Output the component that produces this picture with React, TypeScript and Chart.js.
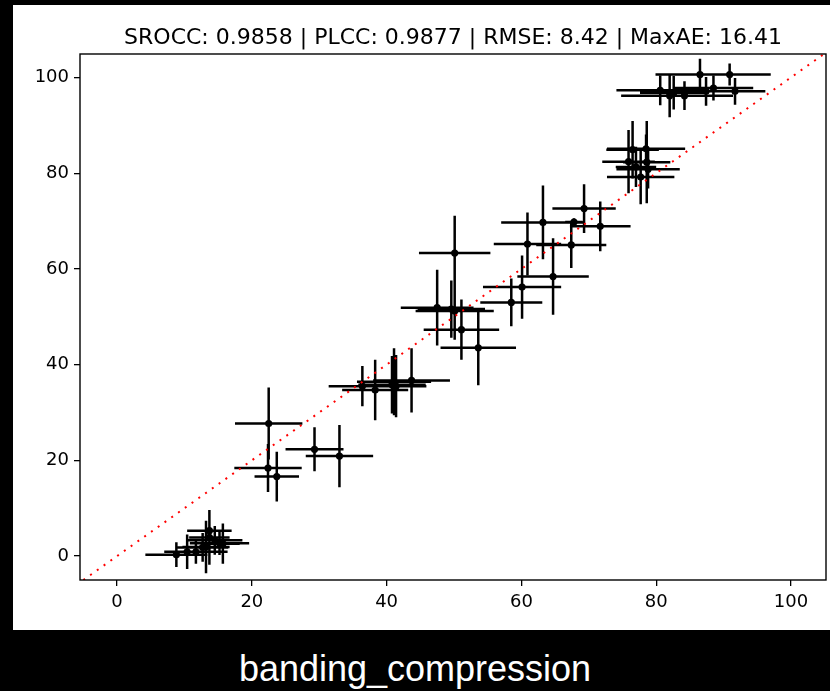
import React, { useEffect, useRef } from "react";
import { Chart, registerables } from "chart.js";

Chart.register(...registerables);

const titleText = "SROCC: 0.9858 | PLCC: 0.9877 | RMSE: 8.42 | MaxAE: 16.41";
const caption = "banding_compression";

const xTicks = [0, 20, 40, 60, 80, 100];
const yTicks = [0, 20, 40, 60, 80, 100];
const diagonal = [-5, 105];

// point centres
const xVals = [
  8.8, 10.4, 11.7, 12.7, 13.2, 13.7, 13.7, 14.5, 15.2, 15.7,
  22.5, 22.4, 23.7, 29.3, 33.0,
  36.4, 38.3, 40.8, 41.1, 41.4, 43.7,
  47.5, 49.6, 50.1, 50.1, 51.1, 53.6,
  58.5, 60.1, 64.7, 60.9, 63.2, 67.4, 67.8, 69.3, 71.7,
  76.5, 78.5, 78.6, 75.9, 78.8, 77.7, 77.0,
  86.5, 90.9, 80.6, 82.0, 82.6, 84.2, 87.4, 88.5, 91.7,
];
const yVals = [
  0.3, 0.9, 0.9, 1.8, 1.9, 3.9, 5.3, 3.3, 2.7, 2.6,
  27.7, 18.4, 16.6, 22.3, 20.9,
  35.5, 34.7, 35.8, 36.4, 35.5, 36.7,
  51.9, 51.6, 51.2, 63.3, 47.3, 43.5,
  53.0, 56.2, 58.4, 65.2, 69.7, 65.0, 69.8, 72.6, 68.9,
  84.9, 85.1, 82.3, 82.4, 80.8, 79.2, 81.3,
  100.6, 100.6, 97.3, 96.2, 96.8, 96.2, 97.1, 97.8, 97.1,
];
// half-widths of the horizontal error bars
const xErr = [
  4.6, 3.2, 4.7, 3.8, 3.5, 3.0, 3.3, 4.1, 4.4, 2.5,
  5.0, 5.0, 3.3, 4.3, 5.0,
  5.0, 4.9, 5.0, 5.5, 4.5, 5.7,
  5.4, 5.0, 5.8, 5.3, 5.6, 5.6,
  4.6, 5.8, 5.3, 5.0, 6.2, 5.2, 1.3, 4.7, 4.5,
  3.9, 5.8, 3.5, 3.9, 4.7, 5.0, 3.0,
  6.6, 6.1, 6.5, 7.2, 5.0, 7.2, 5.5, 5.9, 4.5,
];
// half-heights of the vertical error bars
const yErr = [
  2.6, 3.6, 2.5, 3.0, 5.5, 5.7, 2.0, 3.0, 2.5, 4.2,
  7.5, 5.0, 5.2, 4.6, 6.5,
  4.2, 6.3, 6.0, 7.0, 6.5, 6.7,
  7.9, 6.0, 6.0, 7.8, 6.3, 7.8,
  5.0, 6.6, 8.0, 6.6, 7.7, 4.8, 0.8, 5.1, 5.2,
  6.0, 3.0, 8.6, 6.6, 4.0, 5.7, 4.2,
  3.3, 2.3, 3.1, 4.5, 3.5, 3.0, 3.0, 2.6, 2.8,
];

const framePlugin = {
  id: "frame",
  afterDatasetsDraw(chart: any) {
    const { ctx, chartArea: a } = chart;
    ctx.save();
    ctx.strokeStyle = "#000";
    ctx.lineWidth = 1.4;
    ctx.strokeRect(a.left, a.top, a.right - a.left, a.bottom - a.top);
    ctx.restore();
  },
};

export default function App() {
  const ref = useRef<HTMLCanvasElement | null>(null);

  useEffect(() => {
    if (!ref.current) return;
    const hBars: any[] = [];
    const vBars: any[] = [];
    xVals.forEach((x, i) => {
      const y = yVals[i];
      hBars.push({ x: x - xErr[i], y }, { x: x + xErr[i], y }, { x, y: null });
      vBars.push({ x, y: y - yErr[i] }, { x, y: y + yErr[i] }, { x, y: null });
    });
    const points = xVals.map((x, i) => ({ x, y: yVals[i] }));
    const diag = diagonal.map((v) => ({ x: v, y: v }));

    const tickFont = { family: "'DejaVu Sans'", size: 18 };

    const chart = new Chart(ref.current, {
      type: "scatter",
      data: {
        datasets: [
          {
            data: diag,
            showLine: true,
            borderColor: "#ff0000",
            borderWidth: 2,
            borderDash: [2, 6.3],
            pointRadius: 0,
            order: 0,
          } as any,
          {
            data: points,
            pointRadius: 3.6,
            pointBackgroundColor: "#000",
            pointBorderWidth: 0,
            order: 1,
          },
          {
            data: hBars,
            showLine: true,
            spanGaps: false,
            borderColor: "#000",
            borderWidth: 2.5,
            pointRadius: 0,
            order: 2,
          },
          {
            data: vBars,
            showLine: true,
            spanGaps: false,
            borderColor: "#000",
            borderWidth: 2.5,
            pointRadius: 0,
            order: 2,
          },
        ],
      },
      options: {
        animation: false,
        responsive: false,
        devicePixelRatio: 1,
        events: [],
        layout: { padding: { left: 0, right: 2, top: 0, bottom: 0 } },
        plugins: {
          legend: { display: false },
          tooltip: { enabled: false },
          title: {
            display: true,
            text: titleText,
            fullSize: false,
            color: "#000",
            font: { family: "'DejaVu Sans'", size: 22, weight: "normal" },
            padding: { top: 20, bottom: 2.6 },
          },
        },
        scales: {
          x: {
            type: "linear",
            min: -5.5,
            max: 105.2,
            afterBuildTicks: (s: any) => {
              s.ticks = xTicks.map((v) => ({ value: v }));
            },
            afterFit: (s: any) => {
              s.height = 50;
            },
            grid: {
              drawOnChartArea: false,
              drawTicks: true,
              tickLength: 6,
              color: "#000",
              lineWidth: 1.3,
            },
            border: { display: false },
            ticks: { color: "#000", font: tickFont, padding: 6, maxRotation: 0 },
          },
          y: {
            type: "linear",
            min: -5,
            max: 104.9,
            afterBuildTicks: (s: any) => {
              s.ticks = yTicks.map((v) => ({ value: v }));
            },
            afterFit: (s: any) => {
              s.width = 67;
            },
            grid: {
              drawOnChartArea: false,
              drawTicks: true,
              tickLength: 6,
              color: "#000",
              lineWidth: 1.3,
            },
            border: { display: false },
            ticks: { color: "#000", font: tickFont, padding: 5 },
          },
        },
      } as any,
      plugins: [framePlugin],
    });
    return () => chart.destroy();
  }, []);

  return (
    <div
      style={{
        position: "fixed",
        left: 0,
        top: 0,
        width: 830,
        height: 691,
        background: "#000",
        overflow: "hidden",
      }}
    >
      <div
        style={{
          position: "absolute",
          left: 13,
          top: 5,
          width: 817,
          height: 625,
          background: "#fff",
        }}
      >
        <canvas ref={ref} width={817} height={625} style={{ width: 817, height: 625, display: "block" }} />
      </div>
      <div
        style={{
          position: "absolute",
          left: 0,
          top: 651,
          width: 830,
          textAlign: "center",
          color: "#fff",
          fontFamily: "'Liberation Sans', Arial, sans-serif",
          fontSize: 36,
          lineHeight: "36px",
          whiteSpace: "nowrap",
        }}
      >
        {caption}
      </div>
    </div>
  );
}
